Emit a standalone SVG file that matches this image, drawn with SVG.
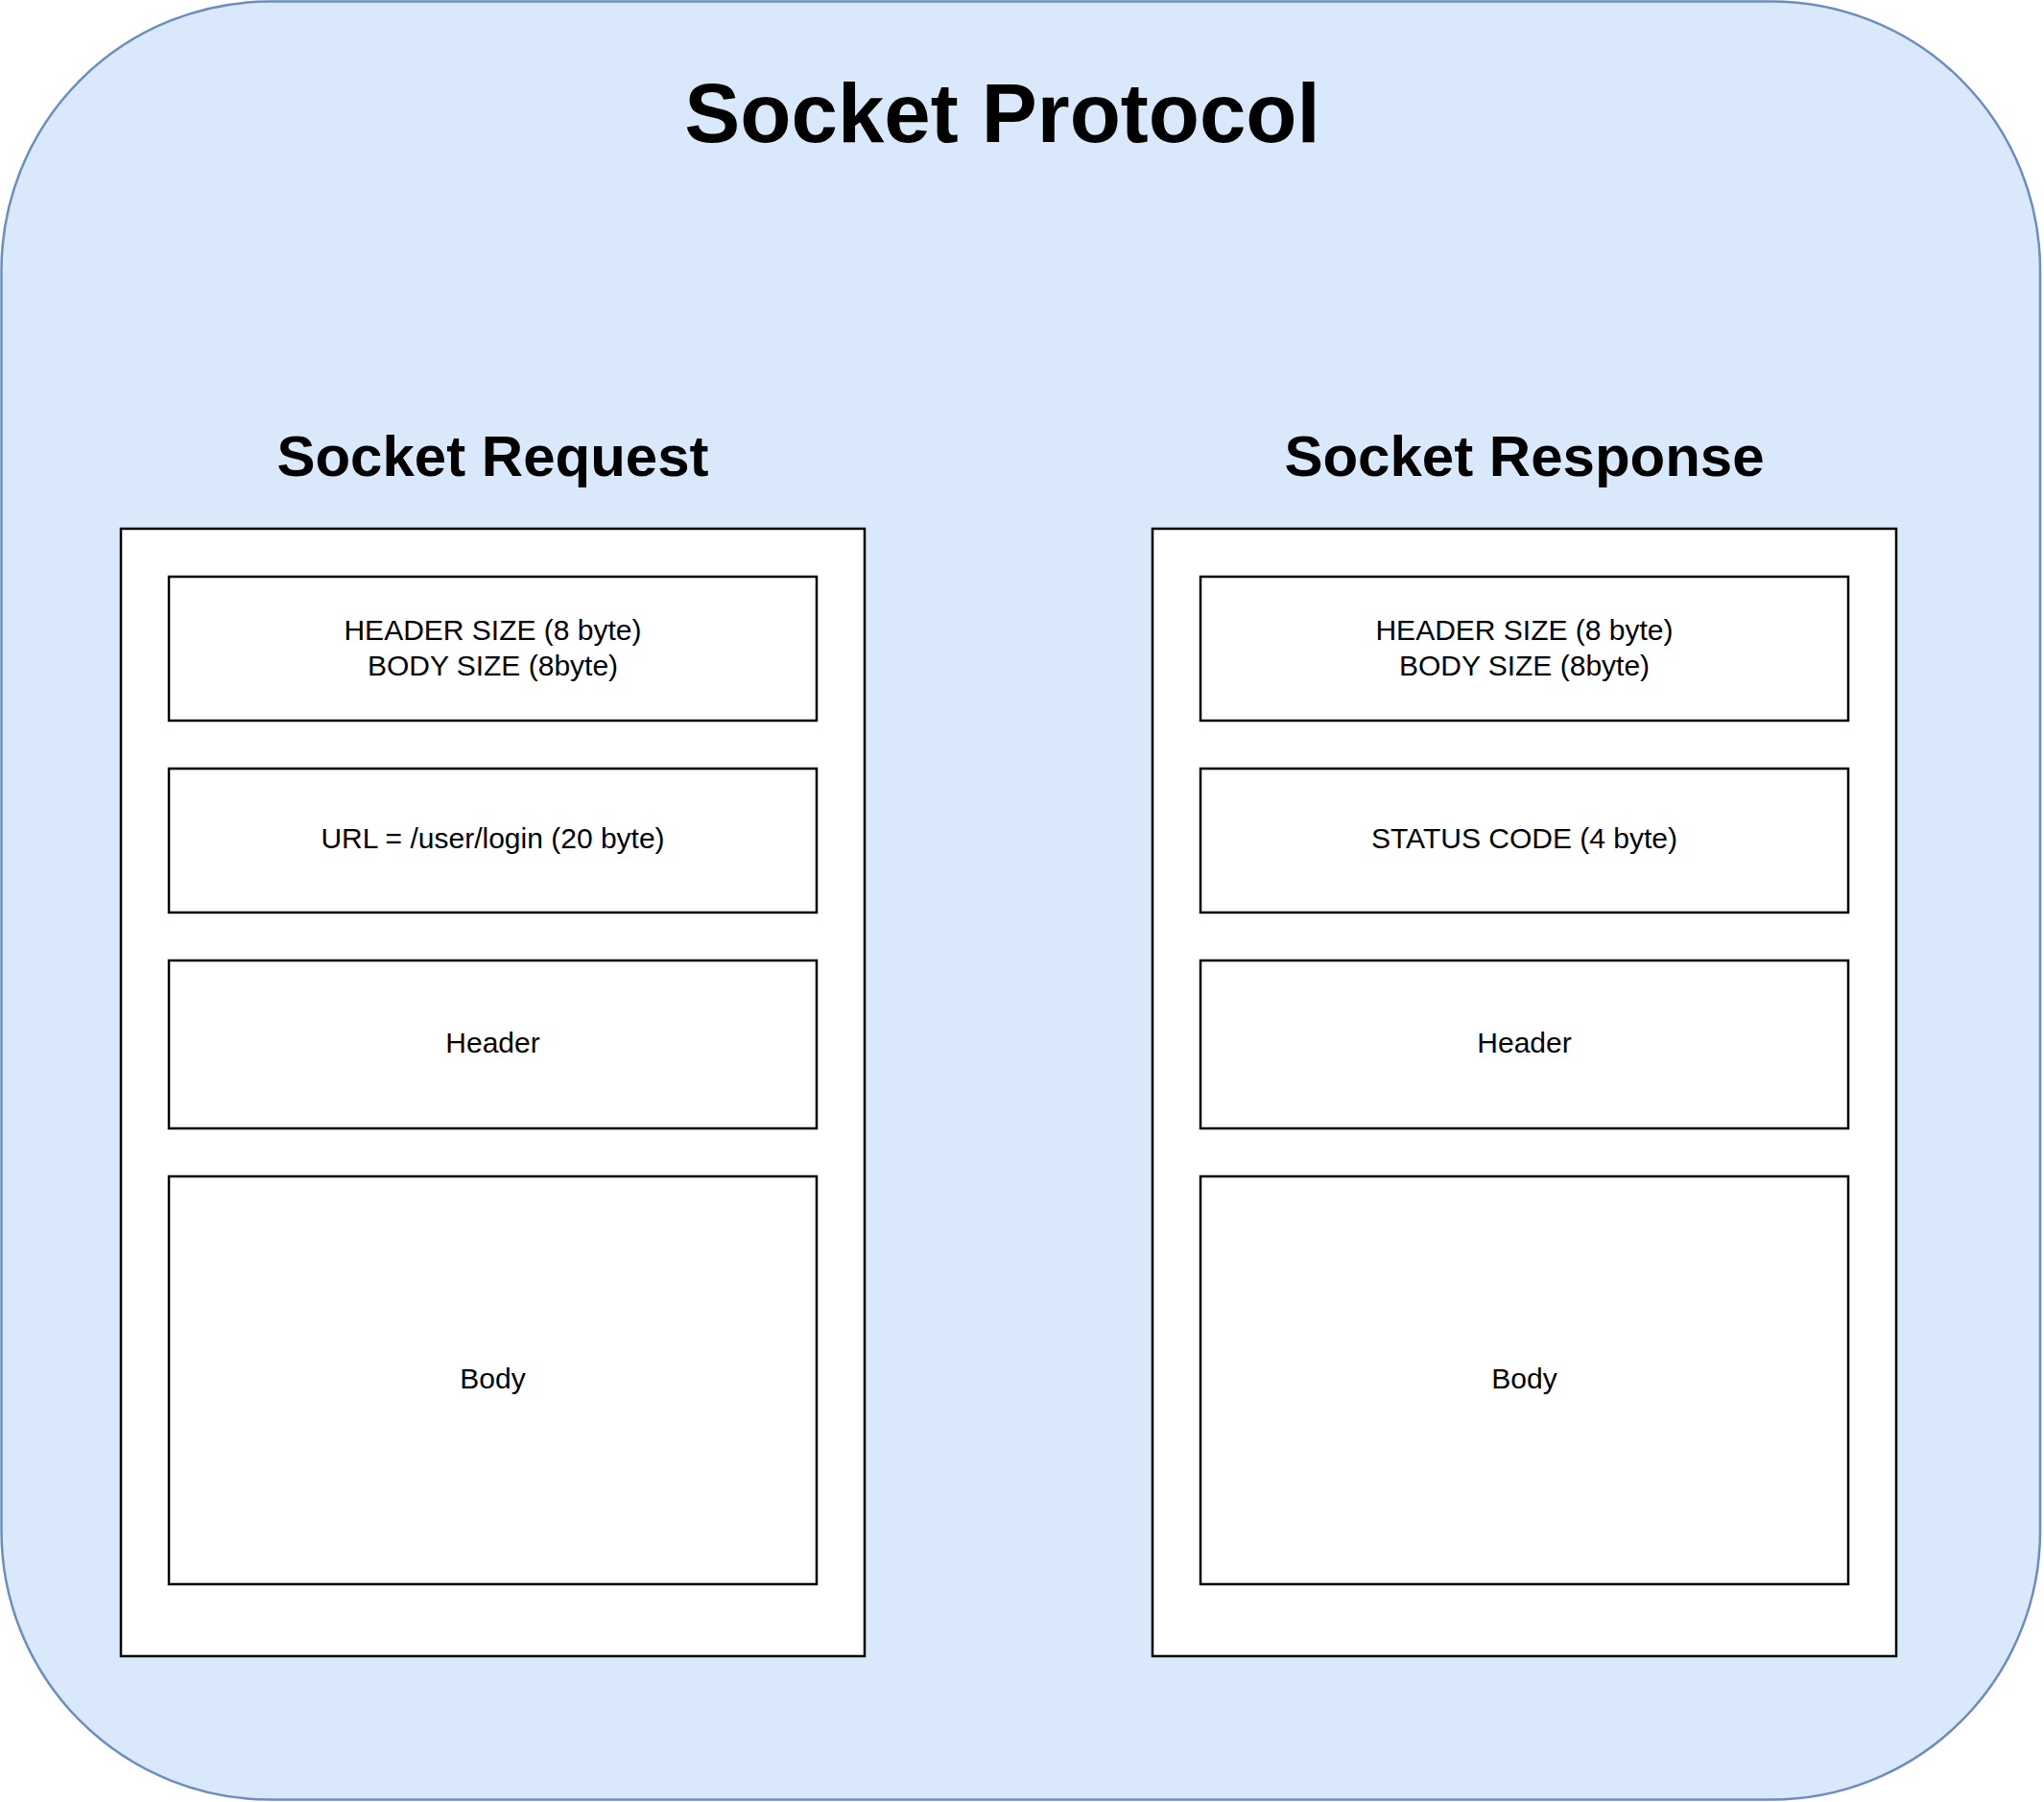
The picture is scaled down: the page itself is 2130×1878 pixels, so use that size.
<svg xmlns="http://www.w3.org/2000/svg" width="2130" height="1878" viewBox="0 0 2130 1878">
  <style>
    .frame { fill: #dae8fc; stroke: #6c8ebf; stroke-width: 2.5; }
    .panel { fill: #ffffff; stroke: #000000; stroke-width: 2.5; }
    .field { fill: #ffffff; stroke: #000000; stroke-width: 2.5; }
    .title { font-family: "Liberation Sans", Arial, Helvetica, sans-serif; font-weight: bold; font-size: 87px; fill: #000000; text-anchor: middle; }
    .subtitle { font-family: "Liberation Sans", Arial, Helvetica, sans-serif; font-weight: bold; font-size: 60px; fill: #000000; text-anchor: middle; }
    .label { font-family: "Liberation Sans", Arial, Helvetica, sans-serif; font-size: 30px; fill: #000000; text-anchor: middle; }
  </style>

  <!-- outer container -->
  <g id="socket-protocol">
    <rect class="frame" x="1.5" y="1.5" width="2124.5" height="1874" rx="280" ry="280"/>
    <text class="title" x="1044.5" y="148">Socket Protocol</text>
  </g>

  <!-- request layout -->
  <g id="socket-request">
    <text class="subtitle" x="513.5" y="496">Socket Request</text>
    <rect class="panel" x="126" y="551" width="775" height="1175"/>
  </g>
  <g id="req-sizes">
    <rect class="field" x="176" y="601" width="675" height="150"/>
    <text class="label" x="513.5" y="666.5">HEADER SIZE (8 byte)</text>
    <text class="label" x="513.5" y="703.5">BODY SIZE (8byte)</text>
  </g>
  <g id="req-url">
    <rect class="field" x="176" y="801" width="675" height="150"/>
    <text class="label" x="513.5" y="884">URL = /user/login (20 byte)</text>
  </g>
  <g id="req-header">
    <rect class="field" x="176" y="1001" width="675" height="175"/>
    <text class="label" x="513.5" y="1097">Header</text>
  </g>
  <g id="req-body">
    <rect class="field" x="176" y="1226" width="675" height="425"/>
    <text class="label" x="513.5" y="1446.5">Body</text>
  </g>

  <!-- response layout -->
  <g id="socket-response">
    <text class="subtitle" x="1588.5" y="496">Socket Response</text>
    <rect class="panel" x="1201" y="551" width="775" height="1175"/>
  </g>
  <g id="res-sizes">
    <rect class="field" x="1251" y="601" width="675" height="150"/>
    <text class="label" x="1588.5" y="666.5">HEADER SIZE (8 byte)</text>
    <text class="label" x="1588.5" y="703.5">BODY SIZE (8byte)</text>
  </g>
  <g id="res-status">
    <rect class="field" x="1251" y="801" width="675" height="150"/>
    <text class="label" x="1588.5" y="884">STATUS CODE (4 byte)</text>
  </g>
  <g id="res-header">
    <rect class="field" x="1251" y="1001" width="675" height="175"/>
    <text class="label" x="1588.5" y="1097">Header</text>
  </g>
  <g id="res-body">
    <rect class="field" x="1251" y="1226" width="675" height="425"/>
    <text class="label" x="1588.5" y="1446.5">Body</text>
  </g>

  <!-- no connectors in this layout -->
  <g id="connectors"/>
</svg>
